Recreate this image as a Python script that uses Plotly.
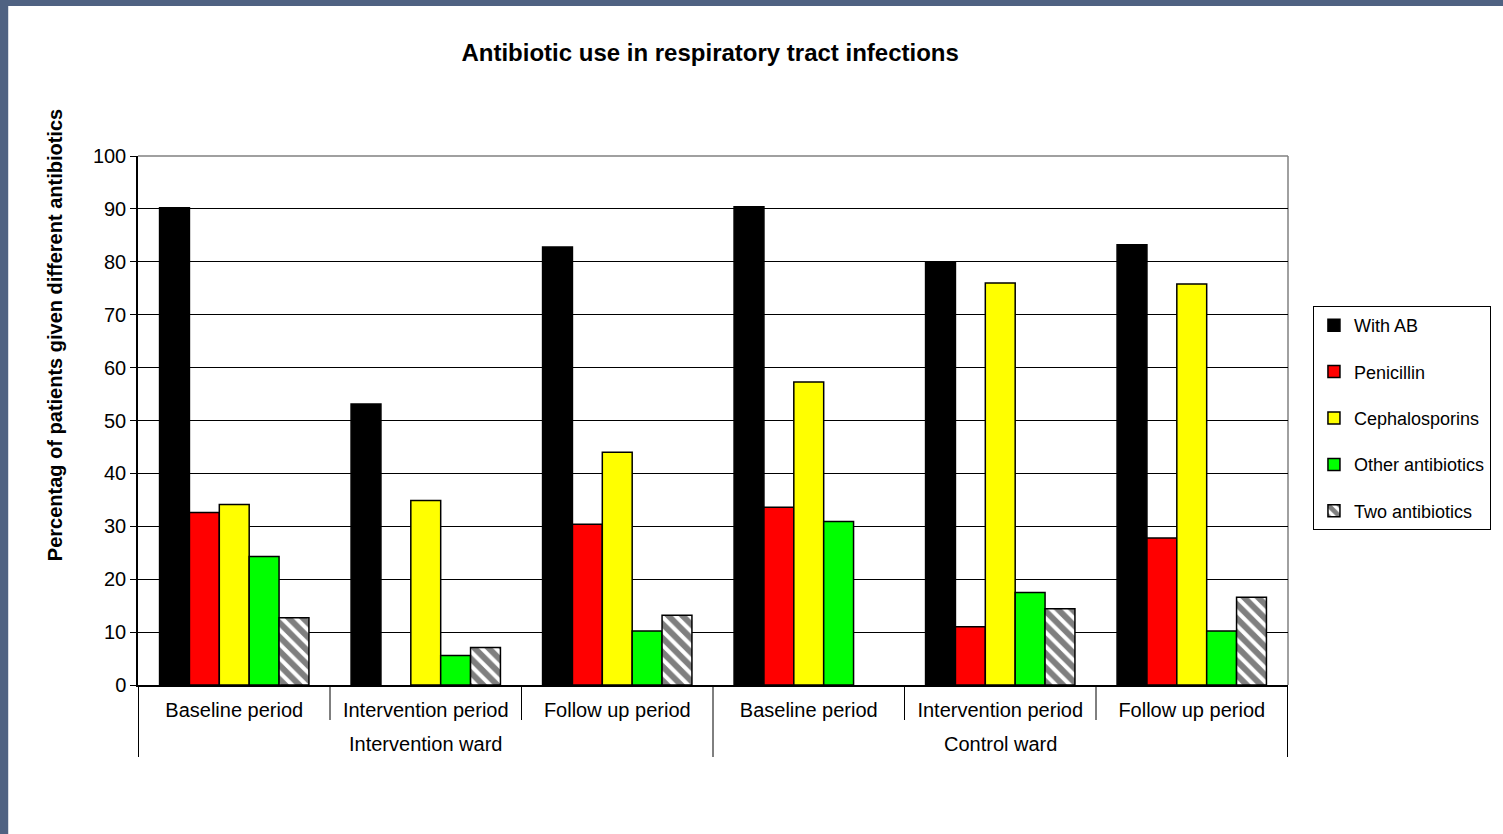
import plotly.graph_objects as go

wards = ["Intervention ward"] * 3 + ["Control ward"] * 3
periods = ["Baseline period", "Intervention period", "Follow up period"] * 2

# None = no bar drawn in the original
with_ab = [90.2, 53.1, 82.8, 90.4, 80.0, 83.2]
penicillin = [32.6, None, 30.4, 33.6, 11.0, 27.8]
cephalosporins = [34.1, 34.9, 44.0, 57.3, 76.0, 75.8]
other_ab = [24.3, 5.6, 10.2, 30.9, 17.5, 10.2]
two_ab = [12.7, 7.1, 13.2, None, 14.4, 16.6]

y_ticks = list(range(0, 101, 10))

FONT = "Liberation Sans, Arial, sans-serif"

# plot area in pixels (used to place frame, legend, group labels)
L, R, T, B = 138, 1290, 156, 685
W, H = R - L, B - T

def px_x(p):
    return (p - L) / W

def px_y(p):
    return (B - p) / H

cats = [f"{w}|{p}" for w, p in zip(wards, periods)]

series = [
    ("With AB", with_ab, "#000000", None),
    ("Penicillin", penicillin, "#ff0000", None),
    ("Cephalosporins", cephalosporins, "#ffff00", None),
    ("Other antibiotics", other_ab, "#00ff00", None),
    ("Two antibiotics", two_ab, "#ffffff", "\\"),
]

fig = go.Figure()
for i, (name, vals, col, pat) in enumerate(series):
    marker = dict(color=col, line=dict(color="#000000", width=1.5))
    if pat:
        marker["pattern"] = dict(shape=pat, fgcolor="#000000", bgcolor="#ffffff",
                                 size=10, solidity=0.6)
    fig.add_trace(go.Bar(
        name=name, x=cats, y=vals, marker=marker,
        legendgroup=f"g{i}",
    ))

# frame + plot border
shapes = [
    dict(type="rect", xref="paper", yref="paper", layer="below",
         x0=px_x(8), x1=px_x(1520), y0=px_y(6), y1=px_y(850),
         fillcolor="#ffffff", line=dict(width=0)),
    dict(type="line", xref="paper", yref="paper", layer="below",
         x0=0, x1=1, y0=1, y1=1, line=dict(color="#808080", width=1.5)),
    dict(type="line", xref="paper", yref="paper", layer="below",
         x0=1, x1=1, y0=0, y1=1, line=dict(color="#808080", width=1.5)),
]

# category separators: short between periods, long between wards
for i in range(len(cats) + 1):
    edge = i == 0 or i == len(cats) or wards[i] != wards[i - 1]
    depth = 72 if edge else 35
    shapes.append(dict(type="line", xref="x", yref="paper",
                       x0=i - 0.5, x1=i - 0.5, y0=0, y1=-depth / H,
                       line=dict(color="#000000", width=1)))

annotations = []
for w in dict.fromkeys(wards):
    idx = [i for i, v in enumerate(wards) if v == w]
    annotations.append(dict(text=w, xref="x", yref="paper",
                            x=(idx[0] + idx[-1]) / 2, y=-59 / H,
                            xanchor="center", yanchor="middle", showarrow=False,
                            font=dict(size=20, family=FONT, color="#000000")))

# y title sits above the plot centre in the original, so place it by hand
annotations.append(dict(
    text="<b>Percentag of patients given different antibiotics</b>",
    xref="paper", yref="paper", x=px_x(55), y=px_y(335),
    xanchor="center", yanchor="middle", textangle=-90, showarrow=False,
    font=dict(size=20, family=FONT, color="#000000")))

fig.update_layout(
    width=1503, height=834,
    margin=dict(l=L, r=1503 - R, t=T, b=834 - B),
    paper_bgcolor="#4f6282",
    plot_bgcolor="#ffffff",
    barmode="group", bargap=0.22, bargroupgap=0,
    font=dict(family=FONT, size=20, color="#000000"),
    title=dict(text="<b>Antibiotic use in respiratory tract infections</b>",
               x=0.4725, xanchor="center", y=1 - 53 / 834, yanchor="middle",
               font=dict(size=24, family=FONT, color="#000000")),
    showlegend=True,
    legend=dict(x=px_x(1315), y=px_y(306), xanchor="left", yanchor="top",
                bordercolor="#000000", borderwidth=1, bgcolor="#ffffff",
                font=dict(size=18, family=FONT), traceorder="grouped",
                tracegroupgap=20, itemwidth=30),
    shapes=shapes,
    annotations=annotations,
)

fig.update_yaxes(
    range=[0, 100], tickvals=y_ticks, showgrid=True, gridcolor="#000000",
    gridwidth=1, showline=True, linecolor="#000000", linewidth=1.5,
    ticks="outside", ticklen=6, tickcolor="#000000", zeroline=False,
    tickfont=dict(size=20, family=FONT),
)
fig.update_xaxes(
    type="category", categoryorder="array", categoryarray=cats,
    tickvals=cats, ticktext=periods,
    showline=True, linecolor="#000000", linewidth=1.5,
    ticks="outside", ticklen=6, tickcolor="rgba(0,0,0,0)",
    tickfont=dict(size=20, family=FONT), showgrid=False,
)

fig.write_html("out.html", config={"displayModeBar": False},
               post_script="document.body.style.margin='0';")
